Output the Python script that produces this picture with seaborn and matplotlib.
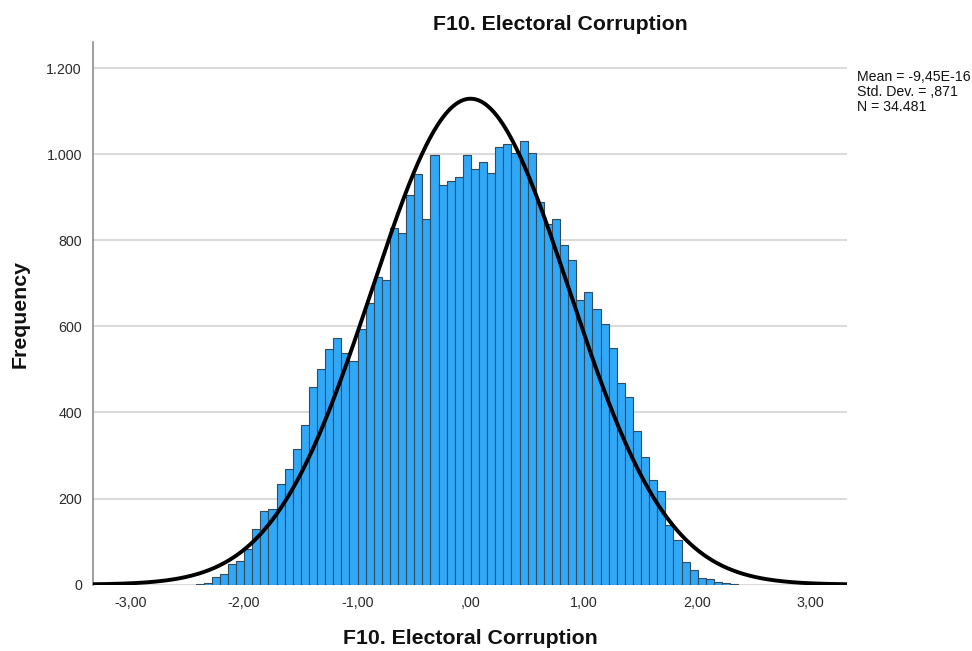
import numpy as np
import pandas as pd
import matplotlib
matplotlib.use("Agg")
import matplotlib.pyplot as plt
import seaborn as sns

# ---- data ----
counts = [2, 4,
          17, 25, 47, 55, 82, 129, 171, 176,
          233, 268, 314, 372, 460, 500, 547, 573, 538, 519, 594,
          655, 715, 707, 828, 818, 906, 955, 850, 998, 928, 939, 947,
          998, 966, 982, 956, 1017, 1024, 1004, 1032, 1003,
          888, 838, 850, 790, 755, 662, 680, 641, 605, 550, 468, 435, 358, 296,
          243, 218, 138, 103, 53, 34, 16, 12, 6, 3, 1]
bin_start = -2.427
bin_width = 0.0715
mean_val = -9.45e-16
sd_val = 0.871
n_val = 34481

x_ticks = [-3, -2, -1, 0, 1, 2, 3]
x_tick_labels = ["-3,00", "-2,00", "-1,00", ",00", "1,00", "2,00", "3,00"]
y_ticks = [0, 200, 400, 600, 800, 1000, 1200]
y_tick_labels = ["0", "200", "400", "600", "800", "1.000", "1.200"]
stats_lines = ["Mean = -9,45E-16", "Std. Dev. = ,871", "N = 34.481"]
title = "F10. Electoral Corruption"
xlabel = "F10. Electoral Corruption"
ylabel = "Frequency"

# ---- build ----
sns.set_theme(style="white")
plt.rcParams["font.family"] = ["Liberation Sans", "DejaVu Sans"]

edges = bin_start + bin_width * np.arange(len(counts) + 1)
centers = (edges[:-1] + edges[1:]) / 2
df = pd.DataFrame({"x": centers, "count": counts})

W, H = 972, 651
fig = plt.figure(figsize=(W / 100, H / 100), dpi=100)
ax = fig.add_axes([93 / W, (H - 585) / H, (847 - 93) / W, (585 - 42) / H])

sns.histplot(data=df, x="x", weights="count", bins=[float(e) for e in edges], ax=ax,
             color="#30a8f8", alpha=1.0, edgecolor="#34495a", linewidth=0.8,
             zorder=2)

xs = np.linspace(-3.4, 3.4, 600)
ys = n_val * bin_width / (sd_val * np.sqrt(2 * np.pi)) * np.exp(-0.5 * ((xs - mean_val) / sd_val) ** 2)
sns.lineplot(x=xs, y=ys, ax=ax, color="black", linewidth=2.8, zorder=3)

ax.set_xlim(-3.332, 3.323)
ax.set_ylim(-1, 1261)
ax.set_xticks(x_ticks)
ax.set_xticklabels(x_tick_labels, fontsize=10.3, color="#2a2a2a")
ax.set_yticks(y_ticks)
ax.set_yticklabels(y_tick_labels, fontsize=10.3, color="#2a2a2a")
ax.tick_params(axis="both", length=0, pad=8)
ax.yaxis.grid(True, color="#d3d3d3", linewidth=1.2, zorder=0)
ax.xaxis.grid(False)
ax.set_axisbelow(True)
ax.set_xlabel("")
ax.set_ylabel("")
for s in ["top", "right", "bottom"]:
    ax.spines[s].set_visible(False)
ax.spines["left"].set_color("#8c8c8c")
ax.spines["left"].set_linewidth(1.2)

fig.text(560 / W, 1 - 24 / H, title, ha="center", va="center",
         fontsize=15.3, fontweight="bold", color="#111111")
fig.text(470 / W, 1 - 638 / H, xlabel, ha="center", va="center",
         fontsize=15.3, fontweight="bold", color="#111111")
fig.text(20 / W, 1 - 314 / H, ylabel, ha="center", va="center", rotation=90,
         fontsize=15.3, fontweight="bold", color="#111111")
for i, line in enumerate(stats_lines):
    fig.text(857 / W, 1 - (77 + 15 * i) / H, line, ha="left", va="center",
             fontsize=10.2, color="#111111")

fig.savefig("out.png", dpi=100)
